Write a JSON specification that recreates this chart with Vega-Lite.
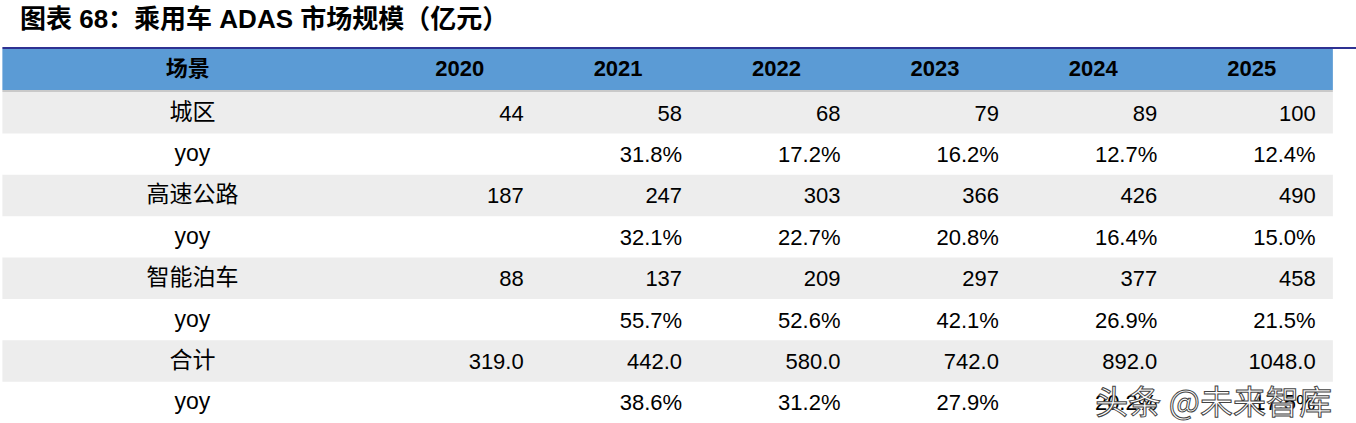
{
  "$schema": "https://vega.github.io/schema/vega-lite/v6.json",
  "width": 1356,
  "height": 423,
  "padding": 0,
  "autosize": {"type": "none"},
  "background": "white",
  "config": {"view": {"stroke": null}},
  "datasets": {
    "header": [{"title": "图表 68：乘用车 ADAS 市场规模（亿元）", "label": "场景"}],
    "watermark": [{"text": "头条 @未来智库"}],
    "years": [{"year": 2020}, {"year": 2021}, {"year": 2022}, {"year": 2023}, {"year": 2024}, {"year": 2025}],
    "labels": [
      {"row": 1, "label": "城区"},
      {"row": 2, "label": "yoy"},
      {"row": 3, "label": "高速公路"},
      {"row": 4, "label": "yoy"},
      {"row": 5, "label": "智能泊车"},
      {"row": 6, "label": "yoy"},
      {"row": 7, "label": "合计"},
      {"row": 8, "label": "yoy"}
    ],
    "cells": [
      {"row": 1, "year": 2020, "value": 44, "kind": "int"},
      {"row": 1, "year": 2021, "value": 58, "kind": "int"},
      {"row": 1, "year": 2022, "value": 68, "kind": "int"},
      {"row": 1, "year": 2023, "value": 79, "kind": "int"},
      {"row": 1, "year": 2024, "value": 89, "kind": "int"},
      {"row": 1, "year": 2025, "value": 100, "kind": "int"},
      {"row": 2, "year": 2021, "value": 0.318, "kind": "pct"},
      {"row": 2, "year": 2022, "value": 0.172, "kind": "pct"},
      {"row": 2, "year": 2023, "value": 0.162, "kind": "pct"},
      {"row": 2, "year": 2024, "value": 0.127, "kind": "pct"},
      {"row": 2, "year": 2025, "value": 0.124, "kind": "pct"},
      {"row": 3, "year": 2020, "value": 187, "kind": "int"},
      {"row": 3, "year": 2021, "value": 247, "kind": "int"},
      {"row": 3, "year": 2022, "value": 303, "kind": "int"},
      {"row": 3, "year": 2023, "value": 366, "kind": "int"},
      {"row": 3, "year": 2024, "value": 426, "kind": "int"},
      {"row": 3, "year": 2025, "value": 490, "kind": "int"},
      {"row": 4, "year": 2021, "value": 0.321, "kind": "pct"},
      {"row": 4, "year": 2022, "value": 0.227, "kind": "pct"},
      {"row": 4, "year": 2023, "value": 0.208, "kind": "pct"},
      {"row": 4, "year": 2024, "value": 0.164, "kind": "pct"},
      {"row": 4, "year": 2025, "value": 0.150, "kind": "pct"},
      {"row": 5, "year": 2020, "value": 88, "kind": "int"},
      {"row": 5, "year": 2021, "value": 137, "kind": "int"},
      {"row": 5, "year": 2022, "value": 209, "kind": "int"},
      {"row": 5, "year": 2023, "value": 297, "kind": "int"},
      {"row": 5, "year": 2024, "value": 377, "kind": "int"},
      {"row": 5, "year": 2025, "value": 458, "kind": "int"},
      {"row": 6, "year": 2021, "value": 0.557, "kind": "pct"},
      {"row": 6, "year": 2022, "value": 0.526, "kind": "pct"},
      {"row": 6, "year": 2023, "value": 0.421, "kind": "pct"},
      {"row": 6, "year": 2024, "value": 0.269, "kind": "pct"},
      {"row": 6, "year": 2025, "value": 0.215, "kind": "pct"},
      {"row": 7, "year": 2020, "value": 319.0, "kind": "dec"},
      {"row": 7, "year": 2021, "value": 442.0, "kind": "dec"},
      {"row": 7, "year": 2022, "value": 580.0, "kind": "dec"},
      {"row": 7, "year": 2023, "value": 742.0, "kind": "dec"},
      {"row": 7, "year": 2024, "value": 892.0, "kind": "dec"},
      {"row": 7, "year": 2025, "value": 1048.0, "kind": "dec"},
      {"row": 8, "year": 2021, "value": 0.386, "kind": "pct"},
      {"row": 8, "year": 2022, "value": 0.312, "kind": "pct"},
      {"row": 8, "year": 2023, "value": 0.279, "kind": "pct"},
      {"row": 8, "year": 2024, "value": 0.202, "kind": "pct"},
      {"row": 8, "year": 2025, "value": 0.175, "kind": "pct"}
    ]
  },
  "layer": [
    {
      "data": {"name": "labels"},
      "transform": [{"filter": "datum.row % 2 == 1"}],
      "mark": {"type": "rule", "strokeWidth": 41.4, "color": "#ededed", "strokeCap": "butt"},
      "encoding": {
        "x": {"datum": 2017.1, "type": "quantitative", "scale": {"domain": [2017.085, 2025.646], "nice": false, "zero": false}, "axis": null},
        "x2": {"datum": 2025.5},
        "y": {"field": "row", "type": "quantitative", "scale": {"domain": [-1.7236, 8.5], "reverse": true, "nice": false, "zero": false}, "axis": null}
      }
    },
    {
      "data": {"name": "header"},
      "mark": {"type": "rule", "strokeWidth": 41, "color": "#5b9bd5", "strokeCap": "butt"},
      "encoding": {
        "x": {"datum": 2017.1, "type": "quantitative"},
        "x2": {"datum": 2025.5},
        "y": {"datum": -0.044, "type": "quantitative"}
      }
    },
    {
      "data": {"name": "header"},
      "mark": {"type": "rule", "strokeWidth": 2, "color": "#c9c9c9", "strokeCap": "butt"},
      "encoding": {
        "x": {"datum": 2017.1, "type": "quantitative"},
        "x2": {"datum": 2025.5},
        "y": {"datum": 0.476, "type": "quantitative"}
      }
    },
    {
      "data": {"name": "header"},
      "mark": {"type": "rule", "strokeWidth": 2, "color": "#2e3192", "strokeCap": "butt"},
      "encoding": {
        "x": {"datum": 2017.1, "type": "quantitative"},
        "x2": {"datum": 2025.646},
        "y": {"datum": -0.564, "type": "quantitative"}
      }
    },
    {
      "data": {"name": "header"},
      "mark": {"type": "text", "align": "left", "baseline": "middle", "font": "Liberation Sans, Noto Sans CJK SC", "fontWeight": "bold", "fontSize": 26, "color": "#000000"},
      "encoding": {
        "x": {"datum": 2017.211, "type": "quantitative"},
        "y": {"datum": -1.24, "type": "quantitative"},
        "text": {"field": "title", "type": "nominal"}
      }
    },
    {
      "data": {"name": "header"},
      "mark": {"type": "text", "align": "center", "baseline": "middle", "font": "Noto Sans CJK SC", "fontWeight": "bold", "fontSize": 22, "color": "#000000"},
      "encoding": {
        "x": {"datum": 2018.27, "type": "quantitative"},
        "y": {"datum": -0.044, "type": "quantitative"},
        "text": {"field": "label", "type": "nominal"}
      }
    },
    {
      "data": {"name": "years"},
      "mark": {"type": "text", "align": "center", "baseline": "middle", "dx": -2, "font": "Liberation Sans", "fontWeight": "bold", "fontSize": 22, "color": "#000000"},
      "encoding": {
        "x": {"field": "year", "type": "quantitative"},
        "y": {"datum": -0.044, "type": "quantitative"},
        "text": {"field": "year", "type": "nominal"}
      }
    },
    {
      "data": {"name": "labels"},
      "mark": {"type": "text", "align": "center", "baseline": "middle", "font": "Liberation Sans, Noto Sans CJK SC", "fontSize": 23, "color": "#000000"},
      "encoding": {
        "x": {"datum": 2018.3, "type": "quantitative"},
        "y": {"field": "row", "type": "quantitative"},
        "text": {"field": "label", "type": "nominal"}
      }
    },
    {
      "data": {"name": "cells"},
      "transform": [{"filter": "datum.kind == 'int'"}],
      "mark": {"type": "text", "align": "right", "baseline": "middle", "dx": 62, "dy": 1, "font": "Liberation Sans", "fontSize": 22, "color": "#000000"},
      "encoding": {
        "x": {"field": "year", "type": "quantitative"},
        "y": {"field": "row", "type": "quantitative"},
        "text": {"field": "value", "type": "quantitative", "format": "d"}
      }
    },
    {
      "data": {"name": "cells"},
      "transform": [{"filter": "datum.kind == 'dec'"}],
      "mark": {"type": "text", "align": "right", "baseline": "middle", "dx": 62, "dy": 1, "font": "Liberation Sans", "fontSize": 22, "color": "#000000"},
      "encoding": {
        "x": {"field": "year", "type": "quantitative"},
        "y": {"field": "row", "type": "quantitative"},
        "text": {"field": "value", "type": "quantitative", "format": ".1f"}
      }
    },
    {
      "data": {"name": "cells"},
      "transform": [{"filter": "datum.kind == 'pct'"}],
      "mark": {"type": "text", "align": "right", "baseline": "middle", "dx": 62, "dy": 1, "font": "Liberation Sans", "fontSize": 22, "color": "#000000"},
      "encoding": {
        "x": {"field": "year", "type": "quantitative"},
        "y": {"field": "row", "type": "quantitative"},
        "text": {"field": "value", "type": "quantitative", "format": ".1%"}
      }
    },
    {
      "data": {"name": "watermark"},
      "mark": {"type": "text", "align": "left", "baseline": "middle", "font": "Noto Sans CJK SC", "fontSize": 33, "color": "#ffffff", "stroke": "#444444", "strokeWidth": 1},
      "encoding": {
        "x": {"datum": 2024.0, "type": "quantitative"},
        "y": {"datum": 8.05, "type": "quantitative"},
        "text": {"field": "text", "type": "nominal"}
      }
    }
  ]
}
